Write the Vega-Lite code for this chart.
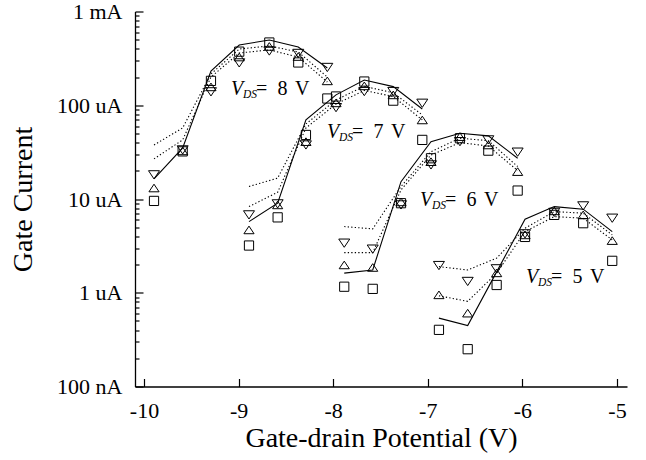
{
  "$schema": "https://vega.github.io/schema/vega-lite/v6.json",
  "width": 492,
  "height": 375,
  "autosize": {"type": "none"},
  "padding": {"left": 135, "top": 11.5, "right": 19, "bottom": 73.5},
  "background": "white",
  "config": {"view": {"stroke": null}, "font": "Liberation Serif"},
  "datasets": {
    "markers": [
      {"g":8,"k":"sq","x":-9.894,"y":9.54e-6},{"g":8,"k":"sq","x":-9.591,"y":3.22e-5},{"g":8,"k":"sq","x":-9.292,"y":1.82e-4},{"g":8,"k":"sq","x":-8.993,"y":3.73e-4},{"g":8,"k":"sq","x":-8.675,"y":4.67e-4},{"g":8,"k":"sq","x":-8.369,"y":2.86e-4},{"g":8,"k":"sq","x":-8.062,"y":1.18e-4},
      {"g":8,"k":"up","x":-9.894,"y":1.31e-5},{"g":8,"k":"up","x":-9.591,"y":3.26e-5},{"g":8,"k":"up","x":-9.292,"y":1.57e-4},{"g":8,"k":"up","x":-8.993,"y":3.27e-4},{"g":8,"k":"up","x":-8.675,"y":4.24e-4},{"g":8,"k":"up","x":-8.369,"y":3.31e-4},{"g":8,"k":"up","x":-8.062,"y":1.82e-4},
      {"g":8,"k":"dn","x":-9.894,"y":1.81e-5},{"g":8,"k":"dn","x":-9.591,"y":3.34e-5},{"g":8,"k":"dn","x":-9.292,"y":1.39e-4},{"g":8,"k":"dn","x":-8.993,"y":2.83e-4},{"g":8,"k":"dn","x":-8.675,"y":3.79e-4},{"g":8,"k":"dn","x":-8.369,"y":3.57e-4},{"g":8,"k":"dn","x":-8.062,"y":2.53e-4},
      {"g":7,"k":"sq","x":-8.890,"y":3.19e-6},{"g":7,"k":"sq","x":-8.587,"y":6.37e-6},{"g":7,"k":"sq","x":-8.288,"y":4.82e-5},{"g":7,"k":"sq","x":-7.970,"y":1.24e-4},{"g":7,"k":"sq","x":-7.671,"y":1.79e-4},{"g":7,"k":"sq","x":-7.365,"y":1.12e-4},{"g":7,"k":"sq","x":-7.058,"y":4.27e-5},
      {"g":7,"k":"up","x":-8.890,"y":4.68e-6},{"g":7,"k":"up","x":-8.587,"y":8.65e-6},{"g":7,"k":"up","x":-8.288,"y":4.09e-5},{"g":7,"k":"up","x":-7.970,"y":1.06e-4},{"g":7,"k":"up","x":-7.671,"y":1.61e-4},{"g":7,"k":"up","x":-7.365,"y":1.29e-4},{"g":7,"k":"up","x":-7.058,"y":6.97e-5},
      {"g":7,"k":"dn","x":-8.890,"y":6.77e-6},{"g":7,"k":"dn","x":-8.587,"y":8.87e-6},{"g":7,"k":"dn","x":-8.288,"y":3.77e-5},{"g":7,"k":"dn","x":-7.970,"y":9.43e-5},{"g":7,"k":"dn","x":-7.671,"y":1.40e-4},{"g":7,"k":"dn","x":-7.365,"y":1.40e-4},{"g":7,"k":"dn","x":-7.058,"y":1.05e-4},
      {"g":6,"k":"sq","x":-7.883,"y":1.16e-6},{"g":6,"k":"sq","x":-7.582,"y":1.10e-6},{"g":6,"k":"sq","x":-7.283,"y":9.02e-6},{"g":6,"k":"sq","x":-6.966,"y":2.72e-5},{"g":6,"k":"sq","x":-6.660,"y":4.45e-5},{"g":6,"k":"sq","x":-6.360,"y":3.28e-5},{"g":6,"k":"sq","x":-6.050,"y":1.23e-5},
      {"g":6,"k":"up","x":-7.883,"y":1.98e-6},{"g":6,"k":"up","x":-7.582,"y":1.86e-6},{"g":6,"k":"up","x":-7.283,"y":9.31e-6},{"g":6,"k":"up","x":-6.966,"y":2.50e-5},{"g":6,"k":"up","x":-6.660,"y":4.63e-5},{"g":6,"k":"up","x":-6.360,"y":3.77e-5},{"g":6,"k":"up","x":-6.050,"y":1.96e-5},
      {"g":6,"k":"dn","x":-7.883,"y":3.38e-6},{"g":6,"k":"dn","x":-7.582,"y":2.92e-6},{"g":6,"k":"dn","x":-7.283,"y":8.65e-6},{"g":6,"k":"dn","x":-6.966,"y":2.31e-5},{"g":6,"k":"dn","x":-6.660,"y":4.09e-5},{"g":6,"k":"dn","x":-6.360,"y":4.27e-5},{"g":6,"k":"dn","x":-6.050,"y":3.16e-5},
      {"g":5,"k":"sq","x":-6.882,"y":4.02e-7},{"g":5,"k":"sq","x":-6.578,"y":2.50e-7},{"g":5,"k":"sq","x":-6.272,"y":1.21e-6},{"g":5,"k":"sq","x":-5.972,"y":3.94e-6},{"g":5,"k":"sq","x":-5.663,"y":6.77e-6},{"g":5,"k":"sq","x":-5.357,"y":5.52e-6},{"g":5,"k":"sq","x":-5.050,"y":2.19e-6},
      {"g":5,"k":"up","x":-6.882,"y":9.50e-7},{"g":5,"k":"up","x":-6.578,"y":6.06e-7},{"g":5,"k":"up","x":-6.272,"y":1.63e-6},{"g":5,"k":"up","x":-5.972,"y":4.14e-6},{"g":5,"k":"up","x":-5.663,"y":7.47e-6},{"g":5,"k":"up","x":-5.357,"y":6.77e-6},{"g":5,"k":"up","x":-5.050,"y":3.60e-6},
      {"g":5,"k":"dn","x":-6.882,"y":1.95e-6},{"g":5,"k":"dn","x":-6.578,"y":1.32e-6},{"g":5,"k":"dn","x":-6.272,"y":1.80e-6},{"g":5,"k":"dn","x":-5.972,"y":4.25e-6},{"g":5,"k":"dn","x":-5.663,"y":7.20e-6},{"g":5,"k":"dn","x":-5.357,"y":8.44e-6},{"g":5,"k":"dn","x":-5.050,"y":6.24e-6}
    ],
    "lines": [
      {"g":8,"k":"solid","x":-9.894,"y":1.64e-5},{"g":8,"k":"solid","x":-9.591,"y":3.51e-5},{"g":8,"k":"solid","x":-9.292,"y":2.32e-4},{"g":8,"k":"solid","x":-8.993,"y":4.39e-4},{"g":8,"k":"solid","x":-8.675,"y":4.97e-4},{"g":8,"k":"solid","x":-8.369,"y":4.18e-4},{"g":8,"k":"solid","x":-8.062,"y":2.50e-4},
      {"g":8,"k":"d1","x":-9.894,"y":3.77e-5},{"g":8,"k":"d1","x":-9.591,"y":5.73e-5},{"g":8,"k":"d1","x":-9.292,"y":2.16e-4},{"g":8,"k":"d1","x":-8.993,"y":3.98e-4},{"g":8,"k":"d1","x":-8.675,"y":4.29e-4},{"g":8,"k":"d1","x":-8.369,"y":3.70e-4},{"g":8,"k":"d1","x":-8.062,"y":2.00e-4},
      {"g":8,"k":"d2","x":-9.894,"y":2.68e-5},{"g":8,"k":"d2","x":-9.591,"y":4.27e-5},{"g":8,"k":"d2","x":-9.292,"y":2.00e-4},{"g":8,"k":"d2","x":-8.993,"y":3.61e-4},{"g":8,"k":"d2","x":-8.675,"y":3.89e-4},{"g":8,"k":"d2","x":-8.369,"y":3.27e-4},{"g":8,"k":"d2","x":-8.062,"y":1.77e-4},
      {"g":7,"k":"solid","x":-8.890,"y":5.74e-6},{"g":7,"k":"solid","x":-8.587,"y":9.02e-6},{"g":7,"k":"solid","x":-8.288,"y":6.97e-5},{"g":7,"k":"solid","x":-7.970,"y":1.29e-4},{"g":7,"k":"solid","x":-7.671,"y":1.86e-4},{"g":7,"k":"solid","x":-7.365,"y":1.58e-4},{"g":7,"k":"solid","x":-7.058,"y":9.13e-5},
      {"g":7,"k":"d1","x":-8.890,"y":1.36e-5},{"g":7,"k":"d1","x":-8.587,"y":1.67e-5},{"g":7,"k":"d1","x":-8.288,"y":6.32e-5},{"g":7,"k":"d1","x":-7.970,"y":1.14e-4},{"g":7,"k":"d1","x":-7.671,"y":1.59e-4},{"g":7,"k":"d1","x":-7.365,"y":1.36e-4},{"g":7,"k":"d1","x":-7.058,"y":7.88e-5},
      {"g":7,"k":"d2","x":-8.890,"y":8.30e-6},{"g":7,"k":"d2","x":-8.587,"y":1.18e-5},{"g":7,"k":"d2","x":-8.288,"y":5.73e-5},{"g":7,"k":"d2","x":-7.970,"y":1.03e-4},{"g":7,"k":"d2","x":-7.671,"y":1.44e-4},{"g":7,"k":"d2","x":-7.365,"y":1.24e-4},{"g":7,"k":"d2","x":-7.058,"y":6.97e-5},
      {"g":6,"k":"solid","x":-7.883,"y":1.62e-6},{"g":6,"k":"solid","x":-7.582,"y":1.75e-6},{"g":6,"k":"solid","x":-7.283,"y":1.53e-5},{"g":6,"k":"solid","x":-6.966,"y":4.09e-5},{"g":6,"k":"solid","x":-6.660,"y":5.03e-5},{"g":6,"k":"solid","x":-6.360,"y":4.71e-5},{"g":6,"k":"solid","x":-6.050,"y":2.72e-5},
      {"g":6,"k":"d1","x":-7.883,"y":5.08e-6},{"g":6,"k":"d1","x":-7.582,"y":4.80e-6},{"g":6,"k":"d1","x":-7.283,"y":1.36e-5},{"g":6,"k":"d1","x":-6.966,"y":3.20e-5},{"g":6,"k":"d1","x":-6.660,"y":4.45e-5},{"g":6,"k":"d1","x":-6.360,"y":4.19e-5},{"g":6,"k":"d1","x":-6.050,"y":2.22e-5},
      {"g":6,"k":"d2","x":-7.883,"y":2.68e-6},{"g":6,"k":"d2","x":-7.582,"y":2.68e-6},{"g":6,"k":"d2","x":-7.283,"y":1.25e-5},{"g":6,"k":"d2","x":-6.966,"y":2.95e-5},{"g":6,"k":"d2","x":-6.660,"y":3.99e-5},{"g":6,"k":"d2","x":-6.360,"y":3.68e-5},{"g":6,"k":"d2","x":-6.050,"y":2.01e-5},
      {"g":5,"k":"solid","x":-6.882,"y":5.36e-7},{"g":5,"k":"solid","x":-6.578,"y":4.47e-7},{"g":5,"k":"solid","x":-6.272,"y":1.67e-6},{"g":5,"k":"solid","x":-5.972,"y":6.09e-6},{"g":5,"k":"solid","x":-5.663,"y":8.30e-6},{"g":5,"k":"solid","x":-5.357,"y":7.79e-6},{"g":5,"k":"solid","x":-5.050,"y":4.49e-6},
      {"g":5,"k":"d1","x":-6.882,"y":1.90e-6},{"g":5,"k":"d1","x":-6.578,"y":1.75e-6},{"g":5,"k":"d1","x":-6.272,"y":2.34e-6},{"g":5,"k":"d1","x":-5.972,"y":4.88e-6},{"g":5,"k":"d1","x":-5.663,"y":7.34e-6},{"g":5,"k":"d1","x":-5.357,"y":7.06e-6},{"g":5,"k":"d1","x":-5.050,"y":4.14e-6},
      {"g":5,"k":"d2","x":-6.882,"y":9.27e-7},{"g":5,"k":"d2","x":-6.578,"y":8.09e-7},{"g":5,"k":"d2","x":-6.272,"y":1.62e-6},{"g":5,"k":"d2","x":-5.972,"y":4.49e-6},{"g":5,"k":"d2","x":-5.663,"y":6.49e-6},{"g":5,"k":"d2","x":-5.357,"y":6.24e-6},{"g":5,"k":"d2","x":-5.050,"y":3.66e-6}
    ],
    "labels": [
      {"g":8,"x":-9.080,"y":1.288e-4,"n":"8"},
      {"g":7,"x":-8.066,"y":4.427e-5,"n":"7"},
      {"g":6,"x":-7.082,"y":8.442e-6,"n":"6"},
      {"g":5,"x":-5.962,"y":1.275e-6,"n":"5"}
    ]
  },
  "encoding": {
    "x": {
      "field": "x", "type": "quantitative",
      "scale": {"domain": [-10.095, -4.894], "nice": false, "zero": false},
      "axis": {
        "values": [-10, -9, -8, -7, -6, -5],
        "tickSize": -8, "tickColor": "black", "tickWidth": 1.2,
        "domainColor": "black", "domainWidth": 1.3,
        "grid": false,
        "labelExpr": "'' + datum.value",
        "labelFont": "Liberation Serif", "labelFontSize": 22, "labelColor": "black",
        "labelPadding": 22, "labelFlush": false, "labelOverlap": false, "labelBound": false,
        "title": "Gate-drain Potential (V)",
        "titleFont": "Liberation Serif", "titleFontSize": 28, "titleFontWeight": "normal", "titleColor": "black",
        "titlePadding": 3
      }
    },
    "y": {
      "field": "y", "type": "quantitative",
      "scale": {"type": "log", "domain": [1e-7, 1e-3], "nice": false},
      "axis": {
        "values": [1e-7,2e-7,3e-7,4e-7,5e-7,6e-7,7e-7,8e-7,9e-7,1e-6,2e-6,3e-6,4e-6,5e-6,6e-6,7e-6,8e-6,9e-6,1e-5,2e-5,3e-5,4e-5,5e-5,6e-5,7e-5,8e-5,9e-5,1e-4,2e-4,3e-4,4e-4,5e-4,6e-4,7e-4,8e-4,9e-4,1e-3],
        "tickSize": {"condition": {"test": "abs(log(datum.value)/LN10 - round(log(datum.value)/LN10)) < 0.001", "value": -8}, "value": -4},
        "tickColor": "black", "tickWidth": 1.2,
        "domainColor": "black", "domainWidth": 1.3,
        "grid": false,
        "labelExpr": "abs(log(datum.value)/LN10 - round(log(datum.value)/LN10)) > 0.001 ? '' : (round(log(datum.value)/LN10) == -3 ? '1 mA' : round(log(datum.value)/LN10) == -4 ? '100 uA' : round(log(datum.value)/LN10) == -5 ? '10 uA' : round(log(datum.value)/LN10) == -6 ? '1 uA' : '100 nA')",
        "labelFont": "Liberation Serif", "labelFontSize": 22, "labelColor": "black",
        "labelPadding": 21, "labelFlush": false, "labelOverlap": false, "labelBound": false,
        "title": "Gate Current",
        "titleFont": "Liberation Serif", "titleFontSize": 28, "titleFontWeight": "normal", "titleColor": "black",
        "titlePadding": 19
      }
    }
  },
  "layer": [
    {
      "data": {"name": "lines"},
      "transform": [{"filter": "datum.k == 'solid'"}],
      "mark": {"type": "line", "color": "black", "strokeWidth": 1.1},
      "encoding": {"detail": {"field": "g", "type": "nominal"}}
    },
    {
      "data": {"name": "lines"},
      "transform": [{"filter": "datum.k != 'solid'"}],
      "mark": {"type": "line", "color": "black", "strokeWidth": 1.1, "strokeDash": [1.3, 2.2]},
      "encoding": {"detail": [{"field": "g", "type": "nominal"}, {"field": "k", "type": "nominal"}]}
    },
    {
      "data": {"name": "markers"},
      "mark": {"type": "point", "filled": false, "color": "black", "strokeWidth": 1, "opacity": 1},
      "encoding": {
        "shape": {"field": "k", "type": "nominal", "legend": null,
          "scale": {"domain": ["sq", "up", "dn"], "range": ["square", "M-1,0.75L0,-0.75L1,0.75Z", "M-1,-0.75L0,0.75L1,-0.75Z"]}},
        "size": {"field": "k", "type": "nominal", "legend": null,
          "scale": {"domain": ["sq", "up", "dn"], "range": [85, 121, 121]}}
      }
    },
    {
      "data": {"name": "labels"},
      "mark": {"type": "text", "text": "V", "font": "Liberation Serif", "fontStyle": "italic", "fontSize": 20, "align": "left", "baseline": "alphabetic", "color": "black"}
    },
    {
      "data": {"name": "labels"},
      "mark": {"type": "text", "text": "DS", "font": "Liberation Serif", "fontStyle": "italic", "fontSize": 11.5, "align": "left", "baseline": "alphabetic", "dx": 12, "dy": 3, "color": "black"}
    },
    {
      "data": {"name": "labels"},
      "mark": {"type": "text", "text": "=", "font": "Liberation Serif", "fontSize": 20, "align": "left", "baseline": "alphabetic", "dx": 25, "color": "black"}
    },
    {
      "data": {"name": "labels"},
      "mark": {"type": "text", "font": "Liberation Serif", "fontSize": 20, "align": "left", "baseline": "alphabetic", "dx": 46.5, "color": "black"},
      "encoding": {"text": {"field": "n", "type": "nominal"}}
    },
    {
      "data": {"name": "labels"},
      "mark": {"type": "text", "text": "V", "font": "Liberation Serif", "fontSize": 20, "align": "left", "baseline": "alphabetic", "dx": 64, "color": "black"}
    }
  ]
}
